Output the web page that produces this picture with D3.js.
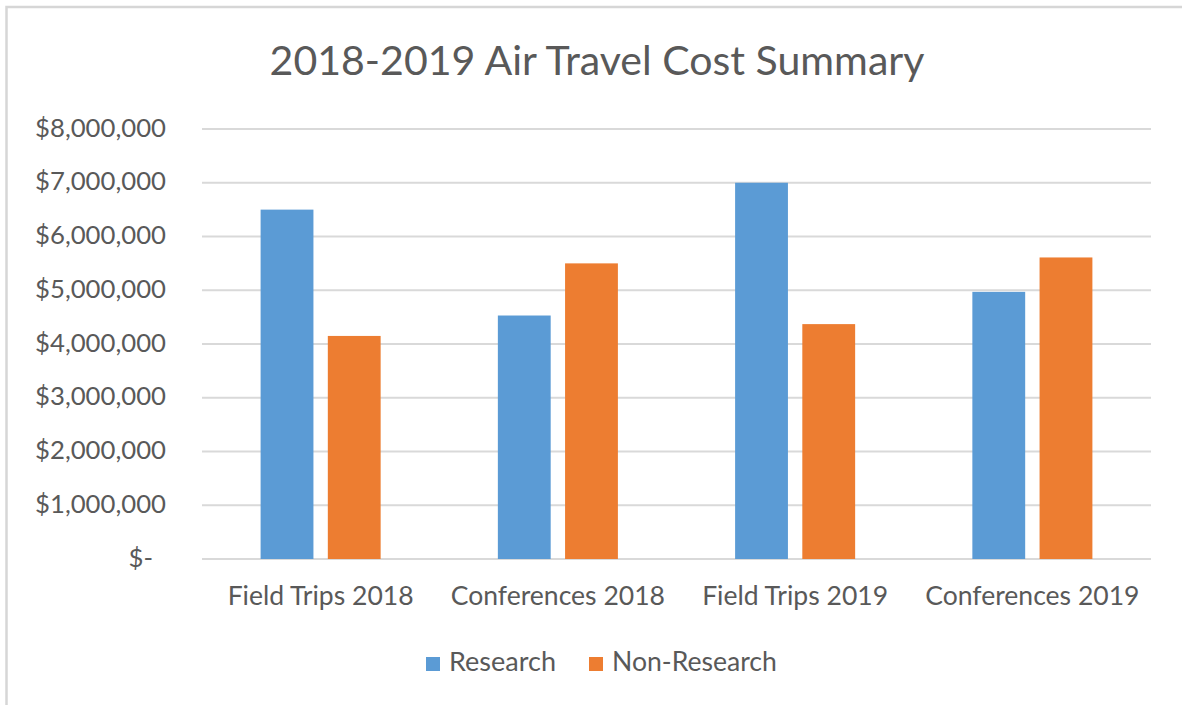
<!DOCTYPE html>
<html>
<head>
<meta charset="utf-8">
<script src="https://cdn.jsdelivr.net/npm/d3@7"></script>
<style>
  body { margin: 0; background: #fff; }
  svg { display: block; font-family: Lato, "Open Sans", sans-serif; }
</style>
</head>
<body>
<svg id="chart" width="1182" height="705"></svg>
<script>
// chart data
const categories = ['Field Trips 2018', 'Conferences 2018', 'Field Trips 2019', 'Conferences 2019'];
const seriesNames = ['Research', 'Non-Research'];
const research = [6500000, 4530000, 7000000, 4970000];
const nonResearch = [4150000, 5500000, 4370000, 5610000];
const yTicks = [0, 1000000, 2000000, 3000000, 4000000, 5000000, 6000000, 7000000, 8000000];

const colors = ['#5B9BD5', '#ED7D31'];
const textColor = '#595959';

const svg = d3.select('#chart');

// shrink/grow font so the text spans the wanted width
function fitText(sel, width) {
  sel.each(function () {
    const size = parseFloat(d3.select(this).attr('font-size'));
    const w = this.getComputedTextLength();
    d3.select(this).attr('font-size', size * width / w);
  });
}

// outer frame (only top and left edge visible)
svg.append('rect')
  .attr('x', 6.5).attr('y', 7)
  .attr('width', 1200).attr('height', 720)
  .attr('fill', 'none')
  .attr('stroke', '#d6d6d6')
  .attr('stroke-width', 2.5);

const x = d3.scaleBand()
  .domain(categories)
  .range([202, 1151]);

const xInner = d3.scaleBand()
  .domain(seriesNames)
  .range([0, x.bandwidth()])
  .paddingInner(0.214)
  .paddingOuter(0.872);

const y = d3.scaleLinear()
  .domain([0, 8000000])
  .range([559, 129]);

// gridlines
svg.append('g')
  .selectAll('line')
  .data(yTicks)
  .join('line')
  .attr('x1', 202).attr('x2', 1151)
  .attr('y1', d => y(d)).attr('y2', d => y(d))
  .attr('stroke', '#d9d9d9')
  .attr('stroke-width', 2);

// y axis labels
const yAxis = svg.append('g')
  .attr('transform', 'translate(166,0)')
  .call(d3.axisLeft(y).tickValues(yTicks).tickSize(0).tickPadding(0)
    .tickFormat(d => d === 0 ? '$-' : '$' + d3.format(',')(d)));
yAxis.select('.domain').remove();
yAxis.selectAll('text')
  .attr('fill', textColor)
  .attr('font-size', 22)
  .attr('dy', '0.28em')
  .attr('font-family', 'Lato, sans-serif');
yAxis.selectAll('text').filter(d => d === 0).attr('dx', -13);
const yMeasure = yAxis.selectAll('text').filter(d => d === 8000000).node().getComputedTextLength();
yAxis.selectAll('text').attr('font-size', 22 * 131 / yMeasure);

// bars
const rows = categories.map((c, i) => ({ cat: c, values: [research[i], nonResearch[i]] }));

svg.append('g')
  .selectAll('g')
  .data(rows)
  .join('g')
  .attr('transform', d => `translate(${x(d.cat)},0)`)
  .selectAll('rect')
  .data(d => d.values.map((v, j) => ({ name: seriesNames[j], value: v, color: colors[j] })))
  .join('rect')
  .attr('x', d => xInner(d.name))
  .attr('width', xInner.bandwidth())
  .attr('y', d => y(d.value))
  .attr('height', d => y(0) - y(d.value))
  .attr('fill', d => d.color);

// x axis labels
const xLabels = svg.append('g')
  .selectAll('text')
  .data(categories)
  .join('text')
  .attr('x', d => x(d) + x.bandwidth() / 2)
  .attr('y', 605)
  .attr('text-anchor', 'middle')
  .attr('fill', textColor)
  .attr('font-size', 22)
  .text(d => d);
const xMeasure = xLabels.filter((d, i) => i === 0).node().getComputedTextLength();
xLabels.attr('font-size', 22 * 186 / xMeasure);

// title
const title = svg.append('text')
  .attr('x', 597)
  .attr('y', 75)
  .attr('text-anchor', 'middle')
  .attr('fill', textColor)
  .attr('font-size', 38)
  .text('2018-2019 Air Travel Cost Summary');
fitText(title, 655);

// legend
const legendX = [426, 589];
const legendW = [107, 165];
const legend = svg.append('g')
  .selectAll('g')
  .data(seriesNames)
  .join('g')
  .attr('transform', (d, i) => `translate(${legendX[i]},657)`);
legend.append('rect')
  .attr('width', 14).attr('height', 14)
  .attr('fill', (d, i) => colors[i]);
legend.append('text')
  .attr('x', 23)
  .attr('y', 14)
  .attr('fill', textColor)
  .attr('font-size', 22)
  .text(d => d)
  .each(function (d, i) { fitText(d3.select(this), legendW[i]); });
</script>
</body>
</html>
